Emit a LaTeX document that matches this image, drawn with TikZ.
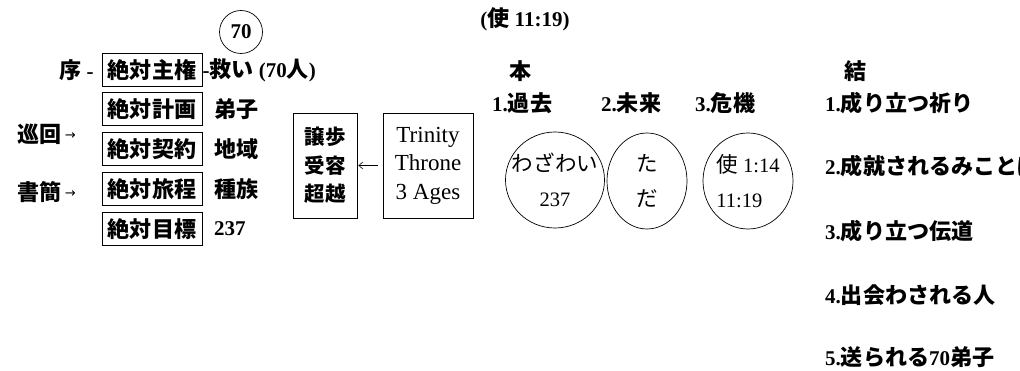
\documentclass[tikz,border=0pt]{standalone}
\usepackage{fontspec}
\setmainfont{Liberation Serif}
\newfontfamily\cjk[Scale=1.05]{Noto Sans CJK JP}
\newfontfamily\symfont{DejaVu Sans}
\newcommand\jp[1]{{\cjk #1}}
\newcommand\sarr{\raisebox{3pt}{\mdseries\symfont\fontsize{13}{13}\selectfont →}}
\usetikzlibrary{arrows.meta,shapes.geometric}
\begin{document}
\begin{tikzpicture}[x=1pt,y=-1pt,
  lbl/.style={font=\bfseries\fontsize{21}{24}\selectfont, inner sep=0pt},
  absbox/.style={draw, line width=0.8pt, minimum width=100pt, minimum height=33pt, inner sep=0pt, font=\bfseries\fontsize{21}{24}\selectfont},
  tallbox/.style={draw, line width=0.8pt, minimum height=105pt, inner sep=0pt, align=center},
  oval/.style={draw, line width=0.7pt, ellipse, inner sep=0pt},
  ovaltext/.style={inner sep=0pt, font=\fontsize{20.5}{35}\selectfont},
  sarrow/.style={-{Straight Barb[length=4pt,width=7pt]}, line width=0.6pt}]
\useasboundingbox (0,0) rectangle (1020,371);
\clip (0,0) rectangle (1020,371);

% top
\node[lbl, draw, circle, line width=0.7pt, minimum size=43pt] (c70) at (241,32) {70};
\node[lbl] (title) at (525,19) {(\jp{使} 11:19)};

% left column
\node[lbl, anchor=west] (jo) at (59,70) {\jp{序} -};
\node[absbox] (b1) at (152,70) {\jp{絶対主権}};
\node[absbox] (b2) at (152,109) {\jp{絶対計画}};
\node[absbox] (b3) at (152,149) {\jp{絶対契約}};
\node[absbox] (b4) at (152,189) {\jp{絶対旅程}};
\node[absbox] (b5) at (152,229) {\jp{絶対目標}};
\node[lbl, anchor=west] (sukui) at (b1.east) {-\jp{救い} (70\jp{人})};
\node[lbl, anchor=west] (deshi) at (214,109) {\jp{弟子}};
\node[lbl, anchor=west] (chiiki) at (214,149) {\jp{地域}};
\node[lbl, anchor=west] (shuzoku) at (214,189) {\jp{種族}};
\node[lbl, anchor=west] (n237) at (214,229) {237};
\node[lbl, anchor=west] (junkai) at (17,134) {\jp{巡回}\,\sarr};
\node[lbl, anchor=west] (shokan) at (17,192) {\jp{書簡}\,\sarr};

% middle boxes
\node[tallbox, minimum width=64pt, font=\bfseries\fontsize{19.5}{28.5}\selectfont] (yb) at (325,165.5) {\jp{譲歩}\\\jp{受容}\\\jp{超越}};
\node[tallbox, minimum width=90pt, font=\fontsize{23}{28.5}\selectfont] (tb) at (428,165.5) {Trinity\\Throne\\3 Ages};
\draw[sarrow, shorten >=1pt, shorten <=5pt] (tb.west) -- (yb.east);

% main section
\node[lbl] (hon) at (521,71) {\jp{本}};
\node[lbl, anchor=west] (h1) at (492,103) {1.\jp{過去}};
\node[lbl, anchor=west] (h2) at (601,103) {2.\jp{未来}};
\node[lbl, anchor=west] (h3) at (695,103) {3.\jp{危機}};
\node[oval, minimum width=99pt, minimum height=96pt] (e1) at (555,180) {};
\node[oval, minimum width=80pt, minimum height=96pt] (e2) at (647,181) {};
\node[oval, minimum width=90pt, minimum height=96pt] (e3) at (748,181) {};
\node[ovaltext, align=center] (e1t) at (e1.center) {\jp{わざわい}\\237};
\node[ovaltext, align=center] (e2t) at (e2.center) {\jp{た}\\\jp{だ}};
\node[ovaltext, align=left] (e3t) at (e3.center) {\jp{使} 1:14\\11:19};

% conclusion
\node[lbl] (ketsu) at (856,71) {\jp{結}};
\node[lbl, anchor=west] (k1) at (825,103) {1.\jp{成り立つ祈り}};
\node[lbl, anchor=west] (k2) at (825,166) {2.\jp{成就されるみことば}};
\node[lbl, anchor=west] (k3) at (825,231) {3.\jp{成り立つ伝道}};
\node[lbl, anchor=west] (k4) at (825,295) {4.\jp{出会わされる人}};
\node[lbl, anchor=west] (k5) at (825,357) {5.\jp{送られる}70\jp{弟子}};
\end{tikzpicture}
\end{document}
